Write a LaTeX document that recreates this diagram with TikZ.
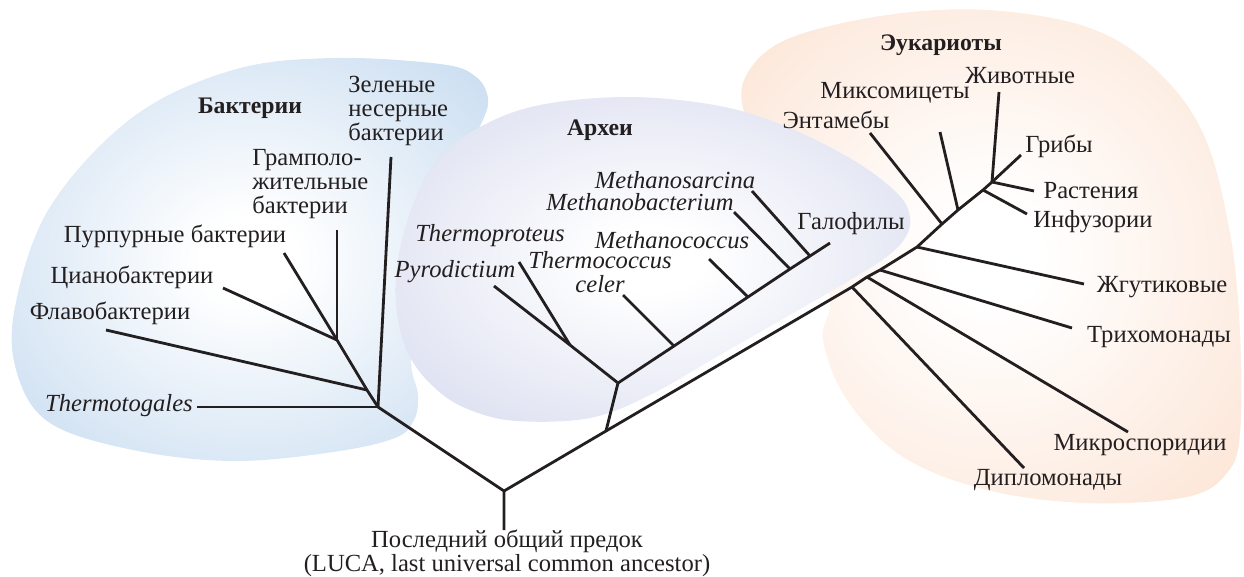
\documentclass[tikz,border=0pt]{standalone}
\usepackage{fontspec}
\setmainfont{Liberation Serif}
\definecolor{inkline}{RGB}{35,31,32}
\definecolor{bactblue}{RGB}{195,217,239}
\definecolor{archblue}{RGB}{212,216,237}
\definecolor{eukpeach}{RGB}{252,226,209}
\pgfdeclareradialshading{bactshade}{\pgfpoint{0bp}{0bp}}{color(0bp)=(white); color(5bp)=(white); color(38bp)=(bactblue); color(50bp)=(bactblue)}
\pgfdeclareradialshading{archshade}{\pgfpoint{0bp}{0bp}}{color(0bp)=(white); color(5bp)=(white); color(38bp)=(archblue); color(50bp)=(archblue)}
\pgfdeclareradialshading{eukshade}{\pgfpoint{0bp}{0bp}}{color(0bp)=(white); color(5bp)=(white); color(38bp)=(eukpeach); color(50bp)=(eukpeach)}

\tikzset{
  branch/.style={draw=inkline, line width=1.6pt},
  taxon/.style={inner sep=0pt, text=inkline, font=\fontsize{14}{13.6}\selectfont},
  taxit/.style={taxon, font=\fontsize{14}{13.6}\selectfont\itshape},
  cladename/.style={inner sep=0pt, text=inkline, font=\fontsize{13.5}{14}\selectfont\bfseries},
}

\begin{document}
\begin{tikzpicture}[x=0.02cm, y=-0.02cm]

\useasboundingbox (0,0) rectangle (1244,576);

\path[shading=eukshade] plot[smooth cycle, tension=0.6] coordinates {(790,38) (887,15) (987,10) (1087,27) (1153,67) (1203,133) (1230,233) (1240,333) (1240,433) (1227,473) (1187,497) (1087,503) (987,490) (903,457) (847,400) (823,340) (830,300) (810,240) (775,170) (744,112) (748,72)};
\path[shading=bactshade] plot[smooth cycle, tension=0.6] coordinates {(333,58) (440,64) (475,76) (488,98) (482,122) (462,160) (440,240) (412,350) (418,395) (414,420) (395,438) (333,452) (233,461) (133,450) (50,423) (17,373) (15,307) (50,207) (133,117) (233,70)};
\path[shading=archshade] plot[smooth cycle, tension=0.6] coordinates {(630,97) (720,106) (787,127) (853,160) (897,193) (910,217) (905,238) (885,258) (845,283) (790,315) (720,355) (650,395) (590,418) (517,421) (470,410) (437,390) (410,357) (397,313) (398,260) (413,205) (437,160) (480,127) (540,105)};

\coordinate (r0) at (504,491);
\coordinate (b0) at (378,407);
\coordinate (b1) at (367,390);
\coordinate (b2) at (337,340);
\coordinate (t1) at (197,407);
\coordinate (t2) at (391,157);
\coordinate (t3) at (106,330);
\coordinate (t4) at (223,288);
\coordinate (t5) at (284,253);
\coordinate (t6) at (337,230);

\coordinate (a0) at (606,431);
\coordinate (a1) at (618,383);
\coordinate (a2) at (570,345);
\coordinate (a3) at (674,346);
\coordinate (a4) at (748,297);
\coordinate (a5) at (790,269);
\coordinate (a6) at (810,256);
\coordinate (s1) at (494,286);
\coordinate (s2) at (519,262);
\coordinate (s3) at (623,295);
\coordinate (s4) at (709,259);
\coordinate (s5) at (734,212);
\coordinate (s6) at (752,191);
\coordinate (s7) at (830,243);

\coordinate (e1) at (852,287);
\coordinate (e2) at (867,277);
\coordinate (e3) at (880,270);
\coordinate (e4) at (917,247);
\coordinate (e5) at (942,224);
\coordinate (e6) at (958,210);
\coordinate (e7) at (983,190);
\coordinate (e8) at (992,182);
\coordinate (k1) at (1024,468);
\coordinate (k2) at (1128,432);
\coordinate (k3) at (1072,328);
\coordinate (k4) at (1084,284);
\coordinate (k5) at (870,133);
\coordinate (k6) at (940,132);
\coordinate (k7) at (999,92);
\coordinate (k8) at (1021,155);
\coordinate (k9) at (1034,191);
\coordinate (k10) at (1027,214);

\node[cladename] (bact) at (250,108) {Бактерии};
\node[cladename] (arch) at (600,130) {Археи};
\node[cladename] (euk) at (941,45) {Эукариоты};

\node[taxit] (thg) at (119,406) {Thermotogales};
\node[taxon, align=left, anchor=west] (gns) at (348,111) {Зеленые\\несерные\\бактерии};
\node[taxon] (fla) at (110,313) {Флавобактерии};
\node[taxon] (cya) at (132,277) {Цианобактерии};
\node[taxon] (pur) at (175,236) {Пурпурные бактерии};
\node[taxon, align=left, anchor=west] (grm) at (252,184) {Грамполо-\\жительные\\бактерии};

\node[taxit] (pyr) at (455,272) {Pyrodictium};
\node[taxit] (thp) at (490,236) {Thermoproteus};
\node[taxit, align=center] (tcc) at (600,272) {Thermococcus\\celer};
\node[taxit] (mcc) at (672,240) {Methanococcus};
\node[taxit] (mbt) at (640,202) {Methanobacterium};
\node[taxit] (msa) at (675,180) {Methanosarcina};
\node[taxon] (hal) at (851,224) {Галофилы};

\node[taxon] (dip) at (1048,480) {Дипломонады};
\node[taxon] (mic) at (1140,445) {Микроспоридии};
\node[taxon] (tri) at (1159,337) {Трихомонады};
\node[taxon] (zhg) at (1162,287) {Жгутиковые};
\node[taxon] (ent) at (836,120) {Энтамебы};
\node[taxon] (mix) at (895,93) {Миксомицеты};
\node[taxon] (ani) at (1020,76) {Животные};
\node[taxon] (fun) at (1059,146) {Грибы};
\node[taxon] (pla) at (1091,191) {Растения};
\node[taxon] (inf) at (1093,222) {Инфузории};

\node[taxon, align=center, anchor=north] (luca) at (507,530) {Последний общий предок\\(LUCA, last universal common ancestor)};

\draw[branch] (r0 |- luca.north) -- (r0) -- (b0);
\draw[branch] (r0) -- (a0) -- (e1) -- (e2) -- (e3) -- (e4) -- (e5) -- (e6) -- (e7) -- (e8);

\draw[branch] (b0) -- (t1);
\draw[branch] (b0) -- (t2);
\draw[branch] (b0) -- (b1) -- (b2);
\draw[branch] (b1) -- (t3);
\draw[branch] (b2) -- (t4);
\draw[branch] (b2) -- (t5);
\draw[branch] (b2) -- (t6);

\draw[branch] (a0) -- (a1) -- (a2);
\draw[branch] (a2) -- (s1);
\draw[branch] (a2) -- (s2);
\draw[branch] (a1) -- (a3) -- (a4) -- (a5) -- (a6) -- (s7);
\draw[branch] (a3) -- (s3);
\draw[branch] (a4) -- (s4);
\draw[branch] (a5) -- (s5);
\draw[branch] (a6) -- (s6);

\draw[branch] (e1) -- (k1);
\draw[branch] (e2) -- (k2);
\draw[branch] (e3) -- (k3);
\draw[branch] (e4) -- (k4);
\draw[branch] (e5) -- (k5);
\draw[branch] (e6) -- (k6);
\draw[branch] (e7) -- (k10);
\draw[branch] (e8) -- (k7);
\draw[branch] (e8) -- (k8);
\draw[branch] (e8) -- (k9);

\end{tikzpicture}
\end{document}
